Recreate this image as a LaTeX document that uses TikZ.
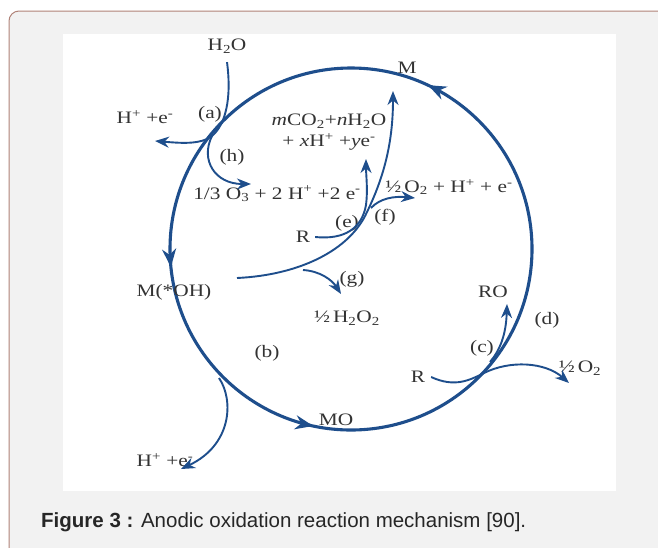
\documentclass[tikz,border=0pt]{standalone}
\usepackage{fontspec}
\usepackage{xcolor}
\usepackage{tikz}
\usetikzlibrary{arrows.meta}
\newfontfamily\rxnfont[FakeStretch=1.22]{Liberation Serif}
\newfontfamily\capfont{Liberation Sans}
\definecolor{cycblue}{RGB}{30,78,140}
\definecolor{framebrown}{RGB}{176,130,120}
\definecolor{panelgray}{RGB}{242,242,242}
\newcommand{\chsub}[1]{\textsubscript{#1}}
\newcommand{\chsup}[1]{\textsuperscript{#1}}
\newcommand{\half}{\textonehalf}

\begin{document}
\begin{tikzpicture}[x=1pt,y=1pt,yscale=-1,
  rxn/.style={font=\rxnfont\fontsize{17.5}{21}\selectfont,text=black!80,inner sep=0pt},
  flow/.style={cycblue,line width=1.9pt,-{Stealth[length=14pt,width=11pt]}},
  cyc/.style={cycblue,line width=3.1pt},
  cyctip/.style={cycblue,line width=3.1pt,-{Stealth[length=18pt,width=14pt]}}]
  \useasboundingbox (0,0) rectangle (658,547);
  \clip (0,0) rectangle (658,547);
  % panel and white figure area
  \fill[panelgray,rounded corners=10pt] (9,11) rectangle (700,600);
  \draw[framebrown,line width=1pt,rounded corners=10pt] (9,600) -- (9,11) -- (700,11);
  \fill[white] (63,34) rectangle (616,491);

  % the cycle
  \draw[cyc] (351,249) circle[radius=181];
  \draw[cyctip] (430.8,86.5) -- (428.1,85.2);
  \draw[cyctip] (170.6,264.0) -- (170.9,267.0);
  \draw[cyctip] (310.3,425.4) -- (313.2,426.0);

  % species and labels
  \node[rxn,outer sep=9pt] (h2o) at (227,46) {H\chsub{2}O};
  \node[rxn] (hpea) at (145,117) {H\chsup{+} +e\chsup{-}};
  \node[rxn] (la) at (210,114) {(a)};
  \node[rxn] (lh) at (232,157) {(h)};
  \node[rxn] (ozone) at (277,194) {1/3 O\chsub{3} + 2 H\chsup{+} +2 e\chsup{-}};
  \node[rxn,align=center] (co2) at (329,132) {\textit{m}CO\chsub{2}+\textit{n}H\chsub{2}O\\+ \textit{x}H\chsup{+} +\textit{y}e\chsup{-}};
  \node[rxn] (m) at (407,68) {M};
  \node[rxn,outer sep=5pt] (ra) at (303,237) {R};
  \node[rxn] (le) at (347,223) {(e)};
  \node[rxn] (lf) at (385,217) {(f)};
  \node[rxn] (o2a) at (449,187) {\half\,O\chsub{2} + H\chsup{+} + e\chsup{-}};
  \node[rxn] (lg) at (352,279) {(g)};
  \node[rxn] (h2o2) at (347,318) {\half\,H\chsub{2}O\chsub{2}};
  \node[rxn] (moh) at (174,292) {M(*OH)};
  \node[rxn] (lb) at (267,353) {(b)};
  \node[rxn] (hpeb) at (165,460) {H\chsup{+} +e\chsup{-}};
  \node[rxn] (mo) at (336,420) {MO};
  \node[rxn] (ro) at (493,292) {RO};
  \node[rxn] (ld) at (547,320) {(d)};
  \node[rxn] (lc) at (482,348) {(c)};
  \node[rxn,outer sep=6pt] (rb) at (418,377) {R};
  \node[rxn] (o2b) at (580,368) {\half\,O\chsub{2}};

  % junctions and free ends
  \coordinate (ja) at (212,136);
  \coordinate (tipa) at (155,141);
  \coordinate (tiph) at (251,184);
  \coordinate (gstart) at (237,278);
  \coordinate (je) at (367,212);
  \coordinate (tipm) at (393,91);
  \coordinate (tipe) at (366,159);
  \coordinate (jf) at (371,208);
  \coordinate (tipf) at (415,198);
  \coordinate (jg) at (303,270);
  \coordinate (tipg) at (341,294);
  \coordinate (jb) at (219,378);
  \coordinate (tipb) at (181,469);
  \coordinate (jc) at (490,362);
  \coordinate (tipro) at (507,304);
  \coordinate (jd) at (484,373);
  \coordinate (tipd) at (569,383);

  % reactions
  \draw[flow] (h2o.south) .. controls (232,100) and (225,125) .. (ja)
    .. controls (200,145) and (180,143) .. (tipa);
  \draw[flow] (ja) .. controls (200,160) and (215,184) .. (tiph);
  \draw[flow] (gstart) .. controls (300,275) and (350,250) .. (je)
    .. controls (385,175) and (393,140) .. (tipm);
  \draw[flow] (ra.east) .. controls (345,240) and (362,228) .. (366,205)
    .. controls (368,190) and (366,175) .. (tipe);
  \draw[flow] (jf) .. controls (380,198) and (395,196) .. (tipf);
  \draw[flow] (jg) .. controls (320,271) and (332,280) .. (tipg);
  \draw[flow] (jb) .. controls (234,400) and (232,445) .. (tipb);
  \draw[flow] (jc) .. controls (500,350) and (506,335) .. (tipro);
  \draw[flow] (rb.east) .. controls (455,388) and (470,380) .. (jd)
    .. controls (510,360) and (545,362) .. (tipd);

  % caption
  \node[anchor=west,inner sep=0pt,text=black!85,font=\capfont\fontsize{20.5}{22}\selectfont] (cap) at (41,522)
    {\textbf{Figure 3 :} Anodic oxidation reaction mechanism [90].};
\end{tikzpicture}
\end{document}
